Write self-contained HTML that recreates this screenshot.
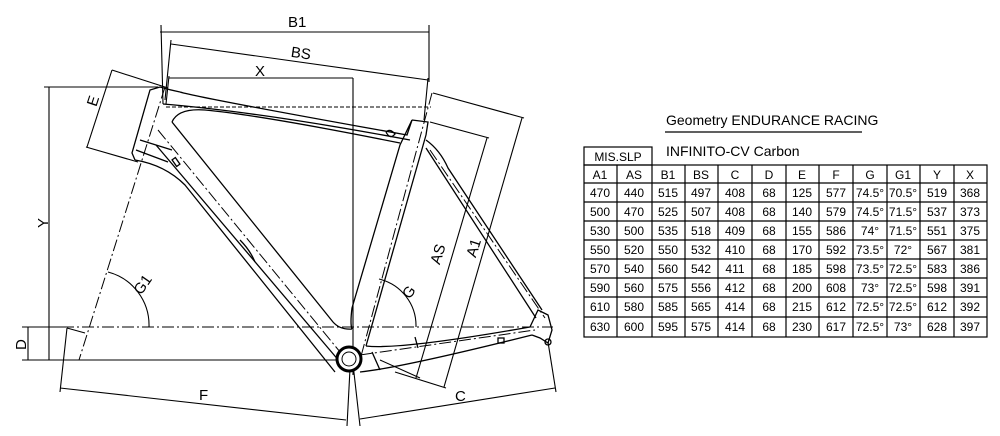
<!DOCTYPE html>
<html><head><meta charset="utf-8"><style>
html,body{margin:0;padding:0;background:#fff;}
svg{display:block;}
text{font-family:"Liberation Sans",sans-serif;fill:#000;}
</style></head><body>
<svg width="1000" height="436" viewBox="0 0 1000 436" xmlns="http://www.w3.org/2000/svg">
<g fill="none" stroke="#000" stroke-width="1.1">
<line x1="160" y1="32" x2="429" y2="32"/>
<line x1="161" y1="25" x2="163" y2="104"/>
<line x1="429" y1="25" x2="429" y2="82"/>
<line x1="171" y1="44" x2="428" y2="80"/>
<line x1="171" y1="40" x2="165" y2="100"/>
<line x1="428" y1="78" x2="424" y2="120"/>
<line x1="169" y1="78" x2="353" y2="78"/>
<line x1="353" y1="78" x2="353" y2="375"/>
<line x1="169" y1="76" x2="166" y2="104"/>
<line x1="49" y1="87" x2="49" y2="360"/>
<line x1="44" y1="87" x2="158" y2="87"/>
<line x1="22" y1="360" x2="345" y2="360"/>
<line x1="28" y1="327" x2="28" y2="360"/>
<line x1="22" y1="327" x2="70" y2="327"/>
<line x1="112" y1="70" x2="168" y2="88"/>
<line x1="86" y1="147" x2="138" y2="162"/>
<line x1="112" y1="70" x2="87" y2="147"/>
<line x1="60" y1="388" x2="346" y2="420"/>
<line x1="67" y1="328" x2="60" y2="392"/>
<line x1="67" y1="328" x2="85" y2="333"/>
<line x1="351" y1="350" x2="347" y2="426"/>
<line x1="360" y1="419" x2="555" y2="388"/>
<line x1="353" y1="364" x2="360" y2="426"/>
<line x1="548" y1="342" x2="556" y2="392"/>
<line x1="487" y1="138" x2="416" y2="378"/>
<line x1="430" y1="122" x2="489" y2="138"/>
<line x1="380" y1="360" x2="420" y2="378"/>
<line x1="522" y1="118" x2="444" y2="387"/>
<line x1="433" y1="93" x2="524" y2="118"/>
<line x1="395" y1="372" x2="446" y2="388"/>
<path d="M108 272 A55 55 0 0 1 149 327"/>
<path d="M379 279 A48 48 0 0 1 416 327"/>
</g>
<g fill="none" stroke="#000" stroke-width="1" stroke-dasharray="12,3,2,3">
<line x1="22" y1="327" x2="553" y2="327"/>
<line x1="165" y1="87" x2="79" y2="360"/>
<line x1="432" y1="93" x2="360" y2="360"/>
<line x1="158" y1="130" x2="345" y2="358"/>
<line x1="430" y1="150" x2="545" y2="318"/>
<line x1="360" y1="355" x2="535" y2="330"/>
</g>
<line x1="166" y1="107" x2="431" y2="107" stroke="#000" stroke-width="1" stroke-dasharray="4,2"/>
<g fill="none" stroke="#000" stroke-width="1.3">
<!-- head tube -->
<path d="M160 87 L150 90 L132 153 L135 160"/>
<path d="M160 87 Q170 90 180 92"/>
<path d="M140 140 L172 150"/>
<path d="M136 150 L168 162"/>
<!-- top tube -->
<path d="M180 92 Q200 98 407 135 L412 120"/>
<path d="M172 122 Q178 108 205 110 Q260 115 400 143"/>
<path d="M163 104 Q260 112 410 140"/>
<!-- down tube -->
<path d="M172 122 L333 322 Q340 330 352 329"/>
<path d="M135 160 Q165 165 185 185 L335 372"/>
<path d="M156 145 L340 362"/>
<!-- seat tube -->
<path d="M412 120 L428 122 L426 135"/>
<path d="M412 120 L400 145 L352 308 Q350 324 352 329"/>
<path d="M426 135 L366 346"/>
<!-- seat stay -->
<path d="M426 140 Q440 150 448 168 L542 310"/>
<path d="M426 148 L536 318"/>
<!-- chainstay -->
<path d="M366 346 Q400 350 530 327"/>
<path d="M360 372 Q400 368 532 335"/>
<path d="M372 352 L380 370"/>
<path d="M530 327 L538 310 L548 315 L552 330 L548 343 L540 338 L532 335"/>
<circle cx="548" cy="342" r="3"/>
<path d="M415 337 L418 348"/>
<rect x="498" y="338" width="6" height="5"/>
<rect x="174" y="158" width="4" height="8" transform="rotate(-35 176 162)"/>
<path d="M240 240 Q250 250 255 262"/>
<path d="M386 132 Q390 128 395 134 Q390 140 386 132"/>
</g>
<circle cx="349" cy="359" r="12" fill="#fff" stroke="#000" stroke-width="3"/>
<circle cx="349" cy="359" r="7" fill="none" stroke="#000" stroke-width="1"/>
<g font-size="15">
<text x="288" y="27">B1</text>
<text x="291" y="58" transform="rotate(8 300 53)">BS</text>
<text x="255" y="76">X</text>
<text x="38" y="228" transform="rotate(-90 43 223)">Y</text>
<text x="16" y="350" transform="rotate(-90 21 345)">D</text>
<text x="88" y="106" transform="rotate(-72 93 101)">E</text>
<text x="134" y="292" transform="rotate(-55 141 287)">G1</text>
<text x="403" y="297" transform="rotate(-55 409 292)">G</text>
<text x="430" y="262" transform="rotate(-72 437 257)">AS</text>
<text x="466" y="255" transform="rotate(-72 473 250)">A1</text>
<text x="199" y="400">F</text>
<text x="455" y="401">C</text>
</g>
<text x="666" y="125" font-size="14">Geometry ENDURANCE RACING</text>
<line x1="665" y1="132" x2="862" y2="132" stroke="#000" stroke-width="1.2"/>
<text x="666" y="156" font-size="14">INFINITO-CV Carbon</text>
<g fill="none" stroke="#000" stroke-width="1.2">
<rect x="584" y="147" width="68" height="18"/>
<rect x="584" y="165" width="403" height="172"/>
<line x1="584" y1="183" x2="987" y2="183"/>
<line x1="584" y1="202" x2="987" y2="202"/>
<line x1="584" y1="221" x2="987" y2="221"/>
<line x1="584" y1="240" x2="987" y2="240"/>
<line x1="584" y1="259" x2="987" y2="259"/>
<line x1="584" y1="278" x2="987" y2="278"/>
<line x1="584" y1="297" x2="987" y2="297"/>
<line x1="584" y1="317" x2="987" y2="317"/>
<line x1="617" y1="165" x2="617" y2="337"/>
<line x1="652" y1="165" x2="652" y2="337"/>
<line x1="685" y1="165" x2="685" y2="337"/>
<line x1="718" y1="165" x2="718" y2="337"/>
<line x1="752" y1="165" x2="752" y2="337"/>
<line x1="786" y1="165" x2="786" y2="337"/>
<line x1="819" y1="165" x2="819" y2="337"/>
<line x1="853" y1="165" x2="853" y2="337"/>
<line x1="887" y1="165" x2="887" y2="337"/>
<line x1="920" y1="165" x2="920" y2="337"/>
<line x1="954" y1="165" x2="954" y2="337"/>
</g>
<g font-size="12" text-anchor="middle">
<text x="618" y="161">MIS.SLP</text>
<g>
<text x="600" y="179">A1</text><text x="634" y="179">AS</text><text x="668" y="179">B1</text><text x="701" y="179">BS</text><text x="735" y="179">C</text><text x="769" y="179">D</text><text x="802" y="179">E</text><text x="836" y="179">F</text><text x="870" y="179">G</text><text x="903" y="179">G1</text><text x="937" y="179">Y</text><text x="970" y="179">X</text>
</g>
<g>
<text x="600" y="197">470</text><text x="634" y="197">440</text><text x="668" y="197">515</text><text x="701" y="197">497</text><text x="735" y="197">408</text><text x="769" y="197">68</text><text x="802" y="197">125</text><text x="836" y="197">577</text><text x="870" y="197">74.5°</text><text x="903" y="197">70.5°</text><text x="937" y="197">519</text><text x="970" y="197">368</text>
</g>
<g>
<text x="600" y="216">500</text><text x="634" y="216">470</text><text x="668" y="216">525</text><text x="701" y="216">507</text><text x="735" y="216">408</text><text x="769" y="216">68</text><text x="802" y="216">140</text><text x="836" y="216">579</text><text x="870" y="216">74.5°</text><text x="903" y="216">71.5°</text><text x="937" y="216">537</text><text x="970" y="216">373</text>
</g>
<g>
<text x="600" y="235">530</text><text x="634" y="235">500</text><text x="668" y="235">535</text><text x="701" y="235">518</text><text x="735" y="235">409</text><text x="769" y="235">68</text><text x="802" y="235">155</text><text x="836" y="235">586</text><text x="870" y="235">74°</text><text x="903" y="235">71.5°</text><text x="937" y="235">551</text><text x="970" y="235">375</text>
</g>
<g>
<text x="600" y="254">550</text><text x="634" y="254">520</text><text x="668" y="254">550</text><text x="701" y="254">532</text><text x="735" y="254">410</text><text x="769" y="254">68</text><text x="802" y="254">170</text><text x="836" y="254">592</text><text x="870" y="254">73.5°</text><text x="903" y="254">72°</text><text x="937" y="254">567</text><text x="970" y="254">381</text>
</g>
<g>
<text x="600" y="273">570</text><text x="634" y="273">540</text><text x="668" y="273">560</text><text x="701" y="273">542</text><text x="735" y="273">411</text><text x="769" y="273">68</text><text x="802" y="273">185</text><text x="836" y="273">598</text><text x="870" y="273">73.5°</text><text x="903" y="273">72.5°</text><text x="937" y="273">583</text><text x="970" y="273">386</text>
</g>
<g>
<text x="600" y="292">590</text><text x="634" y="292">560</text><text x="668" y="292">575</text><text x="701" y="292">556</text><text x="735" y="292">412</text><text x="769" y="292">68</text><text x="802" y="292">200</text><text x="836" y="292">608</text><text x="870" y="292">73°</text><text x="903" y="292">72.5°</text><text x="937" y="292">598</text><text x="970" y="292">391</text>
</g>
<g>
<text x="600" y="311">610</text><text x="634" y="311">580</text><text x="668" y="311">585</text><text x="701" y="311">565</text><text x="735" y="311">414</text><text x="769" y="311">68</text><text x="802" y="311">215</text><text x="836" y="311">612</text><text x="870" y="311">72.5°</text><text x="903" y="311">72.5°</text><text x="937" y="311">612</text><text x="970" y="311">392</text>
</g>
<g>
<text x="600" y="331">630</text><text x="634" y="331">600</text><text x="668" y="331">595</text><text x="701" y="331">575</text><text x="735" y="331">414</text><text x="769" y="331">68</text><text x="802" y="331">230</text><text x="836" y="331">617</text><text x="870" y="331">72.5°</text><text x="903" y="331">73°</text><text x="937" y="331">628</text><text x="970" y="331">397</text>
</g>
</g>
</svg>
</body></html>
